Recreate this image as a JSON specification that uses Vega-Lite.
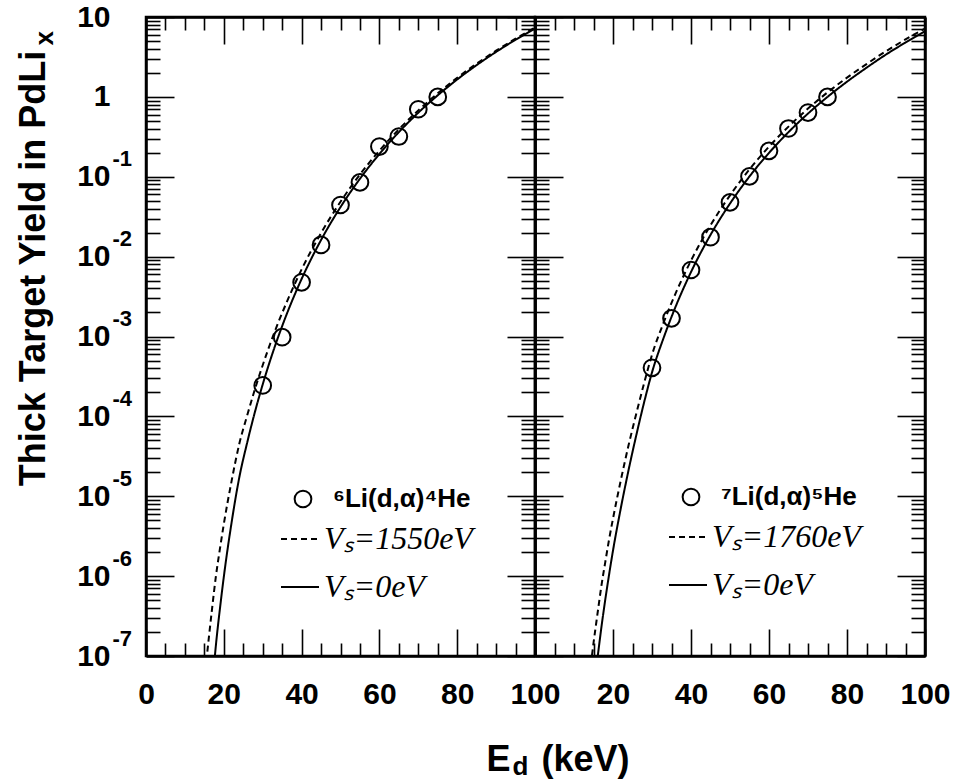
{
  "$schema": "https://vega.github.io/schema/vega-lite/v6.json",
  "background": "white",
  "padding": {"left": 13, "top": 0, "right": 5, "bottom": 0},
  "spacing": 0,
  "bounds": "flush",
  "datasets": {
    "li6_solid": [
      {"E": 17, "Y": 4.07e-8, "curve": "Vₛ=0eV"}, {"E": 18, "Y": 1.413e-7, "curve": "Vₛ=0eV"},
      {"E": 19, "Y": 3.89e-7, "curve": "Vₛ=0eV"}, {"E": 20, "Y": 9.77e-7, "curve": "Vₛ=0eV"},
      {"E": 22, "Y": 4.68e-6, "curve": "Vₛ=0eV"}, {"E": 24, "Y": 1.738e-5, "curve": "Vₛ=0eV"},
      {"E": 26, "Y": 4.67e-5, "curve": "Vₛ=0eV"}, {"E": 28, "Y": 1.135e-4, "curve": "Vₛ=0eV"},
      {"E": 30, "Y": 2.512e-4, "curve": "Vₛ=0eV"}, {"E": 33, "Y": 7.21e-4, "curve": "Vₛ=0eV"},
      {"E": 36, "Y": 1.811e-3, "curve": "Vₛ=0eV"}, {"E": 40, "Y": 5.25e-3, "curve": "Vₛ=0eV"},
      {"E": 45, "Y": 1.614e-2, "curve": "Vₛ=0eV"}, {"E": 50, "Y": 4.17e-2, "curve": "Vₛ=0eV"},
      {"E": 55, "Y": 9.44e-2, "curve": "Vₛ=0eV"}, {"E": 60, "Y": 0.1928, "curve": "Vₛ=0eV"},
      {"E": 65, "Y": 0.3622, "curve": "Vₛ=0eV"}, {"E": 70, "Y": 0.634, "curve": "Vₛ=0eV"},
      {"E": 75, "Y": 1.047, "curve": "Vₛ=0eV"}, {"E": 80, "Y": 1.652, "curve": "Vₛ=0eV"},
      {"E": 85, "Y": 2.5, "curve": "Vₛ=0eV"}, {"E": 90, "Y": 3.656, "curve": "Vₛ=0eV"},
      {"E": 95, "Y": 5.188, "curve": "Vₛ=0eV"}, {"E": 100, "Y": 7.161, "curve": "Vₛ=0eV"}
    ],
    "li6_dashed": [
      {"E": 15.5, "Y": 8.51e-8, "curve": "Vₛ=1550eV"}, {"E": 16, "Y": 1.445e-7, "curve": "Vₛ=1550eV"},
      {"E": 17, "Y": 3.98e-7, "curve": "Vₛ=1550eV"}, {"E": 18, "Y": 1.023e-6, "curve": "Vₛ=1550eV"},
      {"E": 19, "Y": 2.188e-6, "curve": "Vₛ=1550eV"}, {"E": 20, "Y": 4.47e-6, "curve": "Vₛ=1550eV"},
      {"E": 22, "Y": 1.549e-5, "curve": "Vₛ=1550eV"}, {"E": 24, "Y": 4.57e-5, "curve": "Vₛ=1550eV"},
      {"E": 26, "Y": 1.023e-4, "curve": "Vₛ=1550eV"}, {"E": 28, "Y": 2.188e-4, "curve": "Vₛ=1550eV"},
      {"E": 30, "Y": 4.37e-4, "curve": "Vₛ=1550eV"}, {"E": 33, "Y": 1.122e-3, "curve": "Vₛ=1550eV"},
      {"E": 36, "Y": 2.57e-3, "curve": "Vₛ=1550eV"}, {"E": 40, "Y": 6.92e-3, "curve": "Vₛ=1550eV"},
      {"E": 45, "Y": 1.972e-2, "curve": "Vₛ=1550eV"}, {"E": 50, "Y": 4.86e-2, "curve": "Vₛ=1550eV"},
      {"E": 55, "Y": 0.1067, "curve": "Vₛ=1550eV"}, {"E": 60, "Y": 0.2123, "curve": "Vₛ=1550eV"},
      {"E": 65, "Y": 0.3926, "curve": "Vₛ=1550eV"}, {"E": 70, "Y": 0.6776, "curve": "Vₛ=1550eV"},
      {"E": 75, "Y": 1.107, "curve": "Vₛ=1550eV"}, {"E": 80, "Y": 1.734, "curve": "Vₛ=1550eV"},
      {"E": 85, "Y": 2.606, "curve": "Vₛ=1550eV"}, {"E": 90, "Y": 3.784, "curve": "Vₛ=1550eV"},
      {"E": 95, "Y": 5.346, "curve": "Vₛ=1550eV"}, {"E": 100, "Y": 7.362, "curve": "Vₛ=1550eV"}
    ],
    "li6_points": [
      {"E": 30, "Y": 2.44e-4, "series": "⁶Li(d,α)⁴He"}, {"E": 35, "Y": 9.8e-4, "series": "⁶Li(d,α)⁴He"},
      {"E": 40, "Y": 4.77e-3, "series": "⁶Li(d,α)⁴He"}, {"E": 45, "Y": 0.014, "series": "⁶Li(d,α)⁴He"},
      {"E": 50, "Y": 0.0443, "series": "⁶Li(d,α)⁴He"}, {"E": 55, "Y": 0.085, "series": "⁶Li(d,α)⁴He"},
      {"E": 60, "Y": 0.239, "series": "⁶Li(d,α)⁴He"}, {"E": 65, "Y": 0.319, "series": "⁶Li(d,α)⁴He"},
      {"E": 70, "Y": 0.7, "series": "⁶Li(d,α)⁴He"}, {"E": 75, "Y": 1.0, "series": "⁶Li(d,α)⁴He"}
    ],
    "li7_solid": [
      {"E": 15, "Y": 3.47e-8, "curve": "Vₛ=0eV"}, {"E": 16, "Y": 9.12e-8, "curve": "Vₛ=0eV"},
      {"E": 17, "Y": 2.239e-7, "curve": "Vₛ=0eV"}, {"E": 18, "Y": 5.01e-7, "curve": "Vₛ=0eV"},
      {"E": 19, "Y": 1.047e-6, "curve": "Vₛ=0eV"}, {"E": 20, "Y": 2.089e-6, "curve": "Vₛ=0eV"},
      {"E": 22, "Y": 7.08e-6, "curve": "Vₛ=0eV"}, {"E": 24, "Y": 2.138e-5, "curve": "Vₛ=0eV"},
      {"E": 26, "Y": 5.89e-5, "curve": "Vₛ=0eV"}, {"E": 28, "Y": 1.514e-4, "curve": "Vₛ=0eV"},
      {"E": 30, "Y": 3.55e-4, "curve": "Vₛ=0eV"}, {"E": 33, "Y": 9.68e-4, "curve": "Vₛ=0eV"},
      {"E": 36, "Y": 2.328e-3, "curve": "Vₛ=0eV"}, {"E": 40, "Y": 6.41e-3, "curve": "Vₛ=0eV"},
      {"E": 45, "Y": 1.871e-2, "curve": "Vₛ=0eV"}, {"E": 50, "Y": 4.62e-2, "curve": "Vₛ=0eV"},
      {"E": 55, "Y": 0.1009, "curve": "Vₛ=0eV"}, {"E": 60, "Y": 0.1991, "curve": "Vₛ=0eV"},
      {"E": 65, "Y": 0.3622, "curve": "Vₛ=0eV"}, {"E": 70, "Y": 0.618, "curve": "Vₛ=0eV"},
      {"E": 75, "Y": 1.0, "curve": "Vₛ=0eV"}, {"E": 80, "Y": 1.549, "curve": "Vₛ=0eV"},
      {"E": 85, "Y": 2.317, "curve": "Vₛ=0eV"}, {"E": 90, "Y": 3.39, "curve": "Vₛ=0eV"},
      {"E": 95, "Y": 4.79, "curve": "Vₛ=0eV"}, {"E": 100, "Y": 6.61, "curve": "Vₛ=0eV"}
    ],
    "li7_dashed": [
      {"E": 14, "Y": 5.75e-8, "curve": "Vₛ=1760eV"}, {"E": 15, "Y": 1.445e-7, "curve": "Vₛ=1760eV"},
      {"E": 16, "Y": 3.31e-7, "curve": "Vₛ=1760eV"}, {"E": 17, "Y": 7.41e-7, "curve": "Vₛ=1760eV"},
      {"E": 18, "Y": 1.479e-6, "curve": "Vₛ=1760eV"}, {"E": 19, "Y": 2.884e-6, "curve": "Vₛ=1760eV"},
      {"E": 20, "Y": 5.25e-6, "curve": "Vₛ=1760eV"}, {"E": 22, "Y": 1.585e-5, "curve": "Vₛ=1760eV"},
      {"E": 24, "Y": 4.37e-5, "curve": "Vₛ=1760eV"}, {"E": 26, "Y": 1.096e-4, "curve": "Vₛ=1760eV"},
      {"E": 28, "Y": 2.63e-4, "curve": "Vₛ=1760eV"}, {"E": 30, "Y": 5.89e-4, "curve": "Vₛ=1760eV"},
      {"E": 33, "Y": 1.503e-3, "curve": "Vₛ=1760eV"}, {"E": 36, "Y": 3.42e-3, "curve": "Vₛ=1760eV"},
      {"E": 40, "Y": 8.91e-3, "curve": "Vₛ=1760eV"}, {"E": 45, "Y": 2.466e-2, "curve": "Vₛ=1760eV"},
      {"E": 50, "Y": 5.85e-2, "curve": "Vₛ=1760eV"}, {"E": 55, "Y": 0.1239, "curve": "Vₛ=1760eV"},
      {"E": 60, "Y": 0.2382, "curve": "Vₛ=1760eV"}, {"E": 65, "Y": 0.4246, "curve": "Vₛ=1760eV"},
      {"E": 70, "Y": 0.7129, "curve": "Vₛ=1760eV"}, {"E": 75, "Y": 1.138, "curve": "Vₛ=1760eV"},
      {"E": 80, "Y": 1.742, "curve": "Vₛ=1760eV"}, {"E": 85, "Y": 2.576, "curve": "Vₛ=1760eV"},
      {"E": 90, "Y": 3.733, "curve": "Vₛ=1760eV"}, {"E": 95, "Y": 5.236, "curve": "Vₛ=1760eV"},
      {"E": 100, "Y": 7.178, "curve": "Vₛ=1760eV"}
    ],
    "li7_points": [
      {"E": 30, "Y": 4.06e-4, "series": "⁷Li(d,α)⁵He"}, {"E": 35, "Y": 1.69e-3, "series": "⁷Li(d,α)⁵He"},
      {"E": 40, "Y": 6.8e-3, "series": "⁷Li(d,α)⁵He"}, {"E": 45, "Y": 0.0175, "series": "⁷Li(d,α)⁵He"},
      {"E": 50, "Y": 0.0478, "series": "⁷Li(d,α)⁵He"}, {"E": 55, "Y": 0.101, "series": "⁷Li(d,α)⁵He"},
      {"E": 60, "Y": 0.211, "series": "⁷Li(d,α)⁵He"}, {"E": 65, "Y": 0.402, "series": "⁷Li(d,α)⁵He"},
      {"E": 70, "Y": 0.637, "series": "⁷Li(d,α)⁵He"}, {"E": 75, "Y": 1.0, "series": "⁷Li(d,α)⁵He"}
    ]
  },
  "config": {
    "view": {"stroke": "black", "strokeWidth": 2.5},
    "font": "Liberation Sans",
    "axis": {
      "grid": false,
      "domainColor": "black", "domainWidth": 2.5,
      "tickColor": "black", "tickWidth": 1.6,
      "labelFont": "Liberation Sans", "labelFontWeight": "bold", "labelFontSize": 30, "labelColor": "black",
      "labelFlush": false, "labelOverlap": false, "labelLimit": 400,
      "titleFont": "Liberation Sans", "titleFontWeight": "bold", "titleFontSize": 36, "titleColor": "black"
    },
    "legend": {
      "orient": "none", "title": null, "padding": 0,
      "symbolSize": 1444, "symbolStrokeWidth": 2, "symbolStrokeColor": "black", "symbolFillColor": "transparent",
      "labelColor": "black", "labelLimit": 400, "labelOffset": 4, "rowPadding": 12
    }
  },
  "resolve": {
    "scale": {"shape": "independent", "strokeDash": "independent"},
    "legend": {"shape": "independent", "strokeDash": "independent"}
  },
  "hconcat": [
    {
      "width": 389,
      "height": 639,
      "resolve": {"axis": {"x": "independent", "y": "independent"}},
      "layer": [
        {
          "data": {"name": "li6_solid"},
          "mark": {"type": "line", "clip": true, "color": "black", "strokeWidth": 2, "interpolate": "monotone"},
          "encoding": {
            "x": {
              "field": "E", "type": "quantitative",
              "scale": {"domain": [0, 100], "nice": false, "zero": false},
              "axis": {
                "orient": "bottom",
                "values": [0, 5, 10, 15, 20, 25, 30, 35, 40, 45, 50, 55, 60, 65, 70, 75, 80, 85, 90, 95, 100],
                "tickSize": {"condition": {"test": "datum.value % 20 === 0", "value": -27}, "value": -13},
                "labelExpr": "datum.value % 20 === 0 ? '' + datum.value : ''",
                "labelPadding": 50,
                "title": "E", "titleX": 340, "titleY": 114, "titleAlign": "left", "titleBaseline": "alphabetic"
              }
            },
            "y": {
              "field": "Y", "type": "quantitative",
              "scale": {"type": "log", "domain": [1e-7, 10], "nice": false},
              "axis": {
                "orient": "left",
                "values": [1e-7, 2e-7, 3e-7, 4e-7, 5e-7, 6e-7, 7e-7, 8e-7, 9e-7, 1e-6, 2e-6, 3e-6, 4e-6, 5e-6, 6e-6, 7e-6, 8e-6, 9e-6, 1e-5, 2e-5, 3e-5, 4e-5, 5e-5, 6e-5, 7e-5, 8e-5, 9e-5, 0.0001, 0.0002, 0.0003, 0.0004, 0.0005, 0.0006, 0.0007, 0.0008, 0.0009, 0.001, 0.002, 0.003, 0.004, 0.005, 0.006, 0.007, 0.008, 0.009, 0.01, 0.02, 0.03, 0.04, 0.05, 0.06, 0.07, 0.08, 0.09, 0.1, 0.2, 0.3, 0.4, 0.5, 0.6, 0.7, 0.8, 0.9, 1, 2, 3, 4, 5, 6, 7, 8, 9, 10],
                "tickSize": {"condition": {"test": "abs(log(datum.value)/LN10 - round(log(datum.value)/LN10)) < 0.001", "value": -28}, "value": -14},
                "labelExpr": "abs(log(datum.value)/LN10 - round(log(datum.value)/LN10)) < 0.001 ? (datum.value == 1 ? '1' : '10') : ''",
                "labelPadding": 64,
                "title": "Thick Target Yield in PdLi", "titleAngle": 270, "titleX": -102, "titleY": 251,
                "titleAlign": "center", "titleBaseline": "alphabetic"
              }
            },
            "strokeDash": {
              "field": "curve", "type": "nominal",
              "scale": {"domain": ["Vₛ=1550eV", "Vₛ=0eV"], "range": [[6, 4], [1, 0]]},
              "legend": {
                "legendX": 134, "legendY": 502,
                "labelFont": "Liberation Serif", "labelFontStyle": "italic", "labelFontSize": 32
              }
            }
          }
        },
        {
          "data": {"name": "li6_dashed"},
          "mark": {"type": "line", "clip": true, "color": "black", "strokeWidth": 2, "interpolate": "monotone"},
          "encoding": {
            "x": {"field": "E", "type": "quantitative", "scale": {"domain": [0, 100], "nice": false, "zero": false}, "axis": null},
            "y": {
              "field": "Y", "type": "quantitative",
              "scale": {"type": "log", "domain": [1e-7, 10], "nice": false},
              "axis": {
                "orient": "left",
                "values": [1e-7, 1e-6, 1e-5, 0.0001, 0.001, 0.01, 0.1],
                "ticks": false, "domain": false,
                "labelExpr": "'' + round(log(datum.value)/LN10)",
                "labelAlign": "left", "labelBaseline": "middle",
                "labelPadding": 34, "labelOffset": -18, "labelFontSize": 22,
                "title": null
              }
            },
            "strokeDash": {"field": "curve", "type": "nominal"}
          }
        },
        {
          "data": {"name": "li6_points"},
          "mark": {"type": "point", "filled": false, "color": "black", "strokeWidth": 2, "size": 1444, "opacity": 1},
          "encoding": {
            "x": {
              "field": "E", "type": "quantitative",
              "scale": {"domain": [0, 100], "nice": false, "zero": false},
              "axis": {
                "orient": "top",
                "values": [0, 5, 10, 15, 20, 25, 30, 35, 40, 45, 50, 55, 60, 65, 70, 75, 80, 85, 90, 95, 100],
                "tickSize": {"condition": {"test": "datum.value % 20 === 0", "value": -27}, "value": -13},
                "labels": false,
                "title": "d", "titleFontSize": 26, "titleX": 366, "titleY": 757, "titleAlign": "left", "titleBaseline": "alphabetic"
              }
            },
            "y": {
              "field": "Y", "type": "quantitative",
              "scale": {"type": "log", "domain": [1e-7, 10], "nice": false},
              "axis": {
                "orient": "right",
                "values": [1e-7, 2e-7, 3e-7, 4e-7, 5e-7, 6e-7, 7e-7, 8e-7, 9e-7, 1e-6, 2e-6, 3e-6, 4e-6, 5e-6, 6e-6, 7e-6, 8e-6, 9e-6, 1e-5, 2e-5, 3e-5, 4e-5, 5e-5, 6e-5, 7e-5, 8e-5, 9e-5, 0.0001, 0.0002, 0.0003, 0.0004, 0.0005, 0.0006, 0.0007, 0.0008, 0.0009, 0.001, 0.002, 0.003, 0.004, 0.005, 0.006, 0.007, 0.008, 0.009, 0.01, 0.02, 0.03, 0.04, 0.05, 0.06, 0.07, 0.08, 0.09, 0.1, 0.2, 0.3, 0.4, 0.5, 0.6, 0.7, 0.8, 0.9, 1, 2, 3, 4, 5, 6, 7, 8, 9, 10],
                "tickSize": {"condition": {"test": "abs(log(datum.value)/LN10 - round(log(datum.value)/LN10)) < 0.001", "value": -28}, "value": -14},
                "labels": false,
                "title": "x", "titleFontSize": 26, "titleAngle": 270, "titleX": -483, "titleY": 28,
                "titleAlign": "left", "titleBaseline": "alphabetic"
              }
            },
            "shape": {
              "field": "series", "type": "nominal",
              "scale": {"range": ["M0.44,0A0.44,0.44,0,1,1,-0.44,0A0.44,0.44,0,1,1,0.44,0Z"]},
              "legend": {
                "legendX": 137, "legendY": 462, "labelOffset": 10,
                "labelFont": "Liberation Sans", "labelFontWeight": "bold", "labelFontSize": 26
              }
            }
          }
        }
      ]
    },
    {
      "width": 390,
      "height": 639,
      "resolve": {"axis": {"x": "independent", "y": "independent"}},
      "layer": [
        {
          "data": {"name": "li7_solid"},
          "mark": {"type": "line", "clip": true, "color": "black", "strokeWidth": 2, "interpolate": "monotone"},
          "encoding": {
            "x": {
              "field": "E", "type": "quantitative",
              "scale": {"domain": [0, 100], "nice": false, "zero": false},
              "axis": {
                "orient": "bottom",
                "values": [0, 5, 10, 15, 20, 25, 30, 35, 40, 45, 50, 55, 60, 65, 70, 75, 80, 85, 90, 95, 100],
                "tickSize": {"condition": {"test": "datum.value % 20 === 0", "value": -27}, "value": -13},
                "labelExpr": "datum.value % 20 === 0 && datum.value > 0 ? '' + datum.value : ''",
                "labelPadding": 50,
                "title": "(keV)", "titleX": 6, "titleY": 114, "titleAlign": "left", "titleBaseline": "alphabetic"
              }
            },
            "y": {
              "field": "Y", "type": "quantitative",
              "scale": {"type": "log", "domain": [1e-7, 10], "nice": false},
              "axis": {
                "orient": "left",
                "values": [1e-7, 2e-7, 3e-7, 4e-7, 5e-7, 6e-7, 7e-7, 8e-7, 9e-7, 1e-6, 2e-6, 3e-6, 4e-6, 5e-6, 6e-6, 7e-6, 8e-6, 9e-6, 1e-5, 2e-5, 3e-5, 4e-5, 5e-5, 6e-5, 7e-5, 8e-5, 9e-5, 0.0001, 0.0002, 0.0003, 0.0004, 0.0005, 0.0006, 0.0007, 0.0008, 0.0009, 0.001, 0.002, 0.003, 0.004, 0.005, 0.006, 0.007, 0.008, 0.009, 0.01, 0.02, 0.03, 0.04, 0.05, 0.06, 0.07, 0.08, 0.09, 0.1, 0.2, 0.3, 0.4, 0.5, 0.6, 0.7, 0.8, 0.9, 1, 2, 3, 4, 5, 6, 7, 8, 9, 10],
                "tickSize": {"condition": {"test": "abs(log(datum.value)/LN10 - round(log(datum.value)/LN10)) < 0.001", "value": -28}, "value": -14},
                "labels": false,
                "title": null
              }
            },
            "strokeDash": {
              "field": "curve", "type": "nominal",
              "scale": {"domain": ["Vₛ=1760eV", "Vₛ=0eV"], "range": [[6, 4], [1, 0]]},
              "legend": {
                "legendX": 133, "legendY": 500,
                "labelFont": "Liberation Serif", "labelFontStyle": "italic", "labelFontSize": 32
              }
            }
          }
        },
        {
          "data": {"name": "li7_dashed"},
          "mark": {"type": "line", "clip": true, "color": "black", "strokeWidth": 2, "interpolate": "monotone"},
          "encoding": {
            "x": {"field": "E", "type": "quantitative", "scale": {"domain": [0, 100], "nice": false, "zero": false}, "axis": null},
            "y": {"field": "Y", "type": "quantitative", "scale": {"type": "log", "domain": [1e-7, 10], "nice": false}, "axis": null},
            "strokeDash": {"field": "curve", "type": "nominal"}
          }
        },
        {
          "data": {"name": "li7_points"},
          "mark": {"type": "point", "filled": false, "color": "black", "strokeWidth": 2, "size": 1444, "opacity": 1},
          "encoding": {
            "x": {
              "field": "E", "type": "quantitative",
              "scale": {"domain": [0, 100], "nice": false, "zero": false},
              "axis": {
                "orient": "top",
                "values": [0, 5, 10, 15, 20, 25, 30, 35, 40, 45, 50, 55, 60, 65, 70, 75, 80, 85, 90, 95, 100],
                "tickSize": {"condition": {"test": "datum.value % 20 === 0", "value": -27}, "value": -13},
                "labels": false,
                "title": null
              }
            },
            "y": {
              "field": "Y", "type": "quantitative",
              "scale": {"type": "log", "domain": [1e-7, 10], "nice": false},
              "axis": {
                "orient": "right",
                "values": [1e-7, 2e-7, 3e-7, 4e-7, 5e-7, 6e-7, 7e-7, 8e-7, 9e-7, 1e-6, 2e-6, 3e-6, 4e-6, 5e-6, 6e-6, 7e-6, 8e-6, 9e-6, 1e-5, 2e-5, 3e-5, 4e-5, 5e-5, 6e-5, 7e-5, 8e-5, 9e-5, 0.0001, 0.0002, 0.0003, 0.0004, 0.0005, 0.0006, 0.0007, 0.0008, 0.0009, 0.001, 0.002, 0.003, 0.004, 0.005, 0.006, 0.007, 0.008, 0.009, 0.01, 0.02, 0.03, 0.04, 0.05, 0.06, 0.07, 0.08, 0.09, 0.1, 0.2, 0.3, 0.4, 0.5, 0.6, 0.7, 0.8, 0.9, 1, 2, 3, 4, 5, 6, 7, 8, 9, 10],
                "tickSize": {"condition": {"test": "abs(log(datum.value)/LN10 - round(log(datum.value)/LN10)) < 0.001", "value": -28}, "value": -14},
                "labels": false,
                "title": null
              }
            },
            "shape": {
              "field": "series", "type": "nominal",
              "scale": {"range": ["M0.44,0A0.44,0.44,0,1,1,-0.44,0A0.44,0.44,0,1,1,0.44,0Z"]},
              "legend": {
                "legendX": 136, "legendY": 460, "labelOffset": 10,
                "labelFont": "Liberation Sans", "labelFontWeight": "bold", "labelFontSize": 26
              }
            }
          }
        }
      ]
    }
  ]
}
